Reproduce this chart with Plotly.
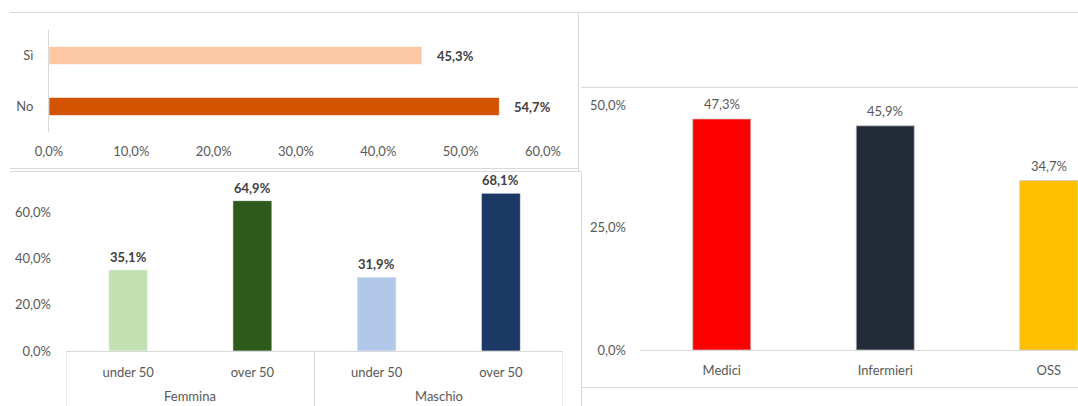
import plotly.graph_objects as go

# --- data -------------------------------------------------------------
risposte = ["Sì", "No"]
risposte_pct = [45.3, 54.7]
risposte_colori = ["#FDC9A4", "#D45300"]

sesso = ["Femmina", "Femmina", "Maschio", "Maschio"]
eta = ["under 50", "over 50", "under 50", "over 50"]
eta_pct = [35.1, 64.9, 31.9, 68.1]
eta_colori = ["#C3E2B3", "#2E5A1C", "#B1C8E8", "#1C3864"]

professioni = ["Medici", "Infermieri", "OSS"]
professioni_pct = [47.3, 45.9, 34.7]
professioni_colori = ["#FF0000", "#222B38", "#FFC000"]

W, H = 1078, 406
FONT = "Lato, 'Open Sans', sans-serif"
GRAY = "#595959"
DARK = "#404040"
LINE = "#D9D9D9"


def px(x):
    return x / W


def py(y):
    return 1 - y / H


def pct(v):
    return f"{v:.1f}%".replace(".", ",")


# one unique key per bar of the sex/age chart; the age text is shown as tick label
chiavi = [f"{s} · {e}" for s, e in zip(sesso, eta)]
gruppi = list(dict.fromkeys(sesso))

fig = go.Figure()

# top-left: horizontal bars
fig.add_trace(go.Bar(
    x=risposte_pct, y=risposte, orientation="h", width=0.353,
    marker=dict(color=risposte_colori, line=dict(color="rgba(255,255,255,0.6)", width=1)),
    xaxis="x", yaxis="y", showlegend=False, hoverinfo="skip",
))

# bottom-left: grouped by sex / age
fig.add_trace(go.Bar(
    x=chiavi, y=eta_pct, width=0.314,
    marker=dict(color=eta_colori, line=dict(color="rgba(255,255,255,0.6)", width=1)),
    xaxis="x2", yaxis="y2", showlegend=False, hoverinfo="skip",
))

# right: professions
fig.add_trace(go.Bar(
    x=professioni, y=professioni_pct, width=0.355,
    marker=dict(color=professioni_colori, line=dict(color="rgba(200,200,200,0.7)", width=1)),
    xaxis="x3", yaxis="y3", showlegend=False, hoverinfo="skip",
))

annotations = []
for lab, v in zip(risposte, risposte_pct):
    annotations.append(dict(
        x=v, y=lab, xref="x", yref="y", text=f"<b>{pct(v)}</b>",
        showarrow=False, xanchor="left", xshift=13,
        font=dict(family=FONT, size=13, color=DARK),
    ))
for k, v in zip(chiavi, eta_pct):
    annotations.append(dict(
        x=k, y=v, xref="x2", yref="y2", text=f"<b>{pct(v)}</b>",
        showarrow=False, yanchor="middle", yshift=13,
        font=dict(family=FONT, size=13, color=DARK),
    ))
for p, v in zip(professioni, professioni_pct):
    annotations.append(dict(
        x=p, y=v, xref="x3", yref="y3", text=pct(v),
        showarrow=False, yanchor="middle", yshift=15,
        font=dict(family=FONT, size=13, color=GRAY),
    ))

shapes = []

# second-level (sex) labels and group dividers under the age axis
for g in gruppi:
    idx = [i for i, s in enumerate(sesso) if s == g]
    annotations.append(dict(
        x=(idx[0] + idx[-1]) / 2, y=py(396), xref="x2", yref="paper", text=g,
        showarrow=False, yanchor="middle",
        font=dict(family=FONT, size=13, color=GRAY),
    ))
confini = sorted({i - 0.5 for i, s in enumerate(sesso) if i == 0 or sesso[i - 1] != s}
                 | {len(sesso) - 0.5})
for b in confini:
    shapes.append(dict(type="line", xref="x2", yref="paper", x0=b, x1=b,
                       y0=py(351), y1=0, line=dict(color=LINE, width=1)))


# panel frames
def hline(x0, x1, y):
    shapes.append(dict(type="line", xref="paper", yref="paper",
                       x0=px(x0), x1=px(x1), y0=py(y), y1=py(y),
                       line=dict(color=LINE, width=1)))


def vline(x, y0, y1):
    shapes.append(dict(type="line", xref="paper", yref="paper",
                       x0=px(x), x1=px(x), y0=py(y0), y1=py(y1),
                       line=dict(color=LINE, width=1)))


hline(10, W, 12.5)
hline(10, 578.5, 168.5)
hline(10, 581.5, 171.5)
vline(578.5, 12.5, 171.5)
vline(581.5, 171.5, H)
hline(581.5, W, 87.5)
hline(581.5, W, 387.5)

tickfont = dict(family=FONT, size=13, color=GRAY)
common = dict(showgrid=False, zeroline=False, tickfont=tickfont, automargin=False,
              ticks="", fixedrange=True)

fig.update_layout(
    template="none",
    width=W, height=H,
    margin=dict(l=0, r=0, t=0, b=0, autoexpand=False),
    paper_bgcolor="white", plot_bgcolor="rgba(0,0,0,0)",
    separators=",.",
    annotations=annotations,
    shapes=shapes,
    xaxis=dict(domain=[px(49), px(543)], range=[0, 60], dtick=10, tickformat=".1f",
               ticksuffix="%", showline=False, anchor="y", ticklabelstandoff=10,
               **common),
    yaxis=dict(domain=[py(132), py(30)], categoryorder="array",
               categoryarray=risposte[::-1], showline=True, linecolor=LINE,
               linewidth=1, anchor="x", ticklabelstandoff=12, **common),
    xaxis2=dict(domain=[px(66), px(563)], type="category", range=[-0.5, len(chiavi) - 0.5],
                tickvals=chiavi, ticktext=eta, showline=True, linecolor=LINE,
                linewidth=1, anchor="y2", ticklabelstandoff=9, **common),
    yaxis2=dict(domain=[py(351), py(175)], range=[0, (351 - 175) / 2.317], dtick=20,
                tickformat=".1f", ticksuffix="%", showline=False, anchor="x2",
                ticklabelstandoff=14, **common),
    xaxis3=dict(domain=[px(640), 1], range=[-0.5, 2.5 - (1130.5 - W) / 163.5],
                showline=True, linecolor=LINE, linewidth=1, anchor="y3",
                ticklabelstandoff=8, **common),
    yaxis3=dict(domain=[py(350), py(87)], range=[0, 263 / 4.884], dtick=25,
                tickformat=".1f", ticksuffix="%", showline=False, anchor="x3",
                ticklabelstandoff=13, **common),
)

fig.write_html("out.html")
